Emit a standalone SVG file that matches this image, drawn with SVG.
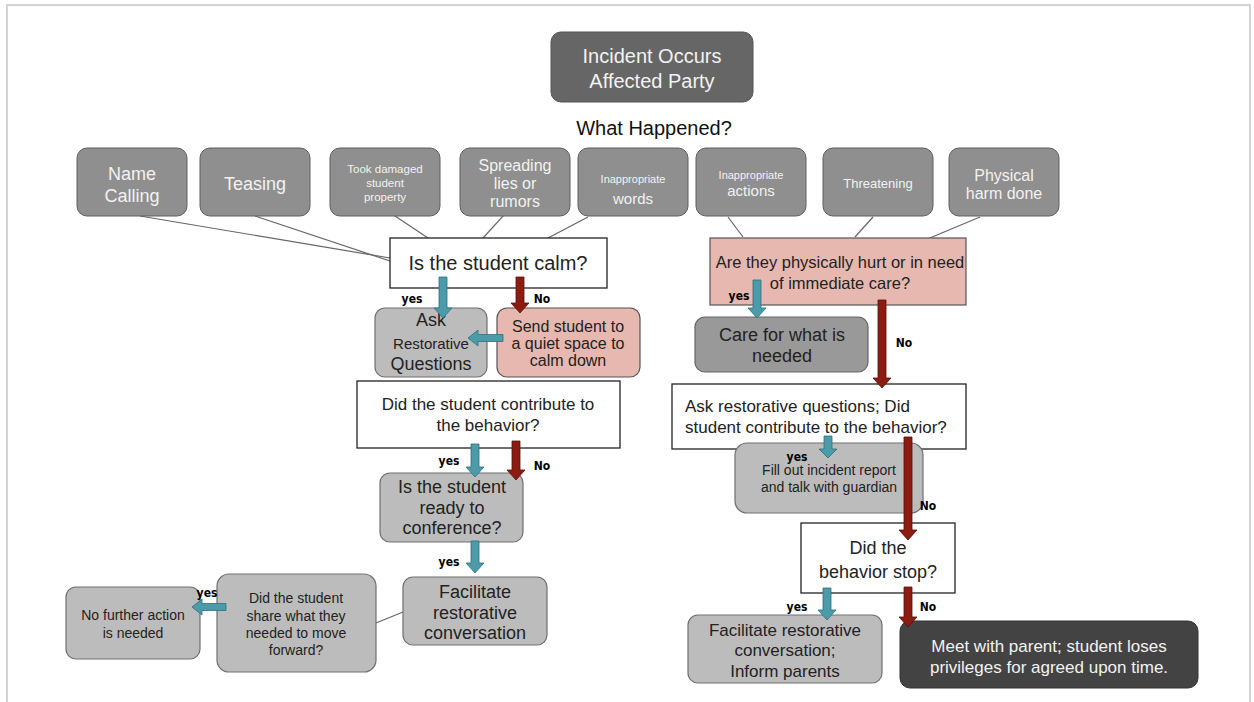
<svg xmlns="http://www.w3.org/2000/svg" width="1254" height="702" viewBox="0 0 1254 702">
<style>
text{font-family:"Liberation Sans",Arial,sans-serif;text-anchor:middle}
.cat rect{fill:#8f8f8f;stroke:#5e5e5e;stroke-width:1}
.cat text{fill:#f2f2f2}
.q rect{fill:#fff;stroke:#222;stroke-width:1.3}
.q text{fill:#222}
.lg rect{fill:#bcbcbc;stroke:#707070;stroke-width:1.2}
.lg text{fill:#222}
.pk rect{fill:#e6b8af;stroke:#555;stroke-width:1.2}
.pk text{fill:#222}
.lbl{font-family:"DejaVu Sans Condensed","DejaVu Sans",sans-serif;font-weight:bold;font-size:12px;fill:#000;font-stretch:condensed}
.link{stroke:#666;stroke-width:1.2;fill:none}
.ty{fill:#4b9bab;stroke:#2e6f7c;stroke-width:0.8}
.rn{fill:#8c1b12;stroke:#5a0f0a;stroke-width:0.8}
</style>
<rect width="1254" height="702" fill="#fff"/>
<path d="M7,702 V5 H1250 V702" fill="none" stroke="#d3d3d3" stroke-width="2"/>

<g id="connectors">
<line class="link" x1="140" y1="216" x2="390" y2="258"/>
<line class="link" x1="255" y1="216" x2="390" y2="261"/>
<line class="link" x1="377" y1="204" x2="428" y2="238"/>
<line class="link" x1="513" y1="205" x2="483" y2="238"/>
<line class="link" x1="588" y1="217" x2="548" y2="238"/>
<line class="link" x1="728" y1="217" x2="743" y2="237"/>
<line class="link" x1="873" y1="217" x2="855" y2="237"/>
<line class="link" x1="980" y1="217" x2="925" y2="240"/>
<line class="link" x1="403" y1="612" x2="376" y2="623"/>
</g>

<g id="n-incident">
<rect x="551" y="32" width="202" height="70" rx="10" fill="#666" stroke="#555"/>
<text x="652" y="63" font-size="20" fill="#f2f2f2">Incident Occurs</text>
<text x="652" y="88" font-size="20" fill="#f2f2f2">Affected Party</text>
</g>
<g id="n-what"><text x="654" y="135" font-size="20" fill="#111">What Happened?</text></g>

<g id="n-name" class="cat"><rect x="77" y="148" width="110" height="68" rx="10"/>
<text x="132" y="180" font-size="18">Name</text><text x="132" y="202" font-size="18">Calling</text></g>
<g id="n-teasing" class="cat"><rect x="200" y="148" width="110" height="68" rx="10"/>
<text x="255" y="190" font-size="18">Teasing</text></g>
<g id="n-took" class="cat"><rect x="330" y="148" width="110" height="68" rx="10"/>
<text x="385" y="173" font-size="11.5">Took damaged</text><text x="385" y="187" font-size="11.5">student</text><text x="385" y="201" font-size="11.5">property</text></g>
<g id="n-spread" class="cat"><rect x="460" y="148" width="110" height="68" rx="10"/>
<text x="515" y="171" font-size="16">Spreading</text><text x="515" y="189" font-size="16">lies or</text><text x="515" y="207" font-size="16">rumors</text></g>
<g id="n-words" class="cat"><rect x="578" y="148" width="110" height="68" rx="10"/>
<text x="633" y="183" font-size="11">Inappropriate</text><text x="633" y="204" font-size="15">words</text></g>
<g id="n-actions" class="cat"><rect x="696" y="148" width="110" height="68" rx="10"/>
<text x="751" y="179" font-size="11">Inappropriate</text><text x="751" y="196" font-size="15">actions</text></g>
<g id="n-threat" class="cat"><rect x="823" y="148" width="110" height="68" rx="10"/>
<text x="878" y="188" font-size="13">Threatening</text></g>
<g id="n-physical" class="cat"><rect x="949" y="148" width="110" height="68" rx="10"/>
<text x="1004" y="181" font-size="16">Physical</text><text x="1004" y="199" font-size="16">harm done</text></g>

<g id="n-calm" class="q"><rect x="390" y="238" width="217" height="50"/>
<text x="498" y="270" font-size="20">Is the student calm?</text></g>

<g id="n-ask" class="lg"><rect x="375" y="308" width="112" height="69" rx="10"/>
<text x="431" y="326" font-size="18">Ask</text><text x="431" y="349" font-size="15">Restorative</text><text x="431" y="370" font-size="18">Questions</text></g>
<g id="n-send" class="pk"><rect x="497" y="308" width="143" height="69" rx="10"/>
<text x="568" y="332" font-size="16">Send student to</text><text x="568" y="349" font-size="16">a quiet space to</text><text x="568" y="366" font-size="16">calm down</text></g>

<g id="n-hurt" class="pk"><rect x="710" y="238" width="256" height="67"/>
<text x="840" y="268" font-size="16.5">Are they physically hurt or in need</text><text x="840" y="289" font-size="16.5">of immediate care?</text></g>
<g id="n-care"><rect x="695" y="317" width="173" height="55" rx="10" fill="#999" stroke="#666" stroke-width="1.2"/>
<text x="782" y="341" font-size="18" fill="#222">Care for what is</text><text x="782" y="362" font-size="18" fill="#222">needed</text></g>

<g id="n-contrib-l" class="q"><rect x="357" y="381" width="263" height="67"/>
<text x="488" y="410" font-size="17">Did the student contribute to</text><text x="488" y="431" font-size="17">the behavior?</text></g>
<g id="n-ready" class="lg"><rect x="380" y="473" width="143" height="69" rx="10"/>
<text x="452" y="493" font-size="18">Is the student</text><text x="452" y="514" font-size="18">ready to</text><text x="452" y="534" font-size="18">conference?</text></g>
<g id="n-facil-l" class="lg"><rect x="403" y="577" width="144" height="68" rx="10"/>
<text x="475" y="598" font-size="18">Facilitate</text><text x="475" y="619" font-size="18">restorative</text><text x="475" y="639" font-size="18">conversation</text></g>
<g id="n-share" class="lg"><rect x="217" y="574" width="159" height="98" rx="12"/>
<text x="296" y="603" font-size="14">Did the student</text><text x="296" y="621" font-size="14">share what they</text><text x="296" y="638" font-size="14">needed to move</text><text x="296" y="655" font-size="14">forward?</text></g>
<g id="n-nofurther" class="lg"><rect x="66" y="587" width="134" height="72" rx="10"/>
<text x="133" y="620" font-size="14">No further action</text><text x="133" y="638" font-size="14">is needed</text></g>

<g id="n-contrib-r" class="q"><rect x="672" y="384" width="294" height="65"/>
<text x="685" y="412" font-size="17" style="text-anchor:start">Ask restorative questions; Did</text>
<text x="685" y="433" font-size="17" style="text-anchor:start">student contribute to the behavior?</text></g>
<g id="n-report" class="lg"><rect x="735" y="443" width="188" height="70" rx="12"/>
<text x="829" y="475" font-size="14">Fill out incident report</text><text x="829" y="492" font-size="14">and talk with guardian</text></g>
<g id="n-stop" class="q"><rect x="801" y="523" width="154" height="70"/>
<text x="878" y="554" font-size="18">Did the</text><text x="878" y="578" font-size="18">behavior stop?</text></g>
<g id="n-facil-r" class="lg"><rect x="688" y="615" width="194" height="68" rx="10"/>
<text x="785" y="636" font-size="17">Facilitate restorative</text><text x="785" y="656" font-size="17">conversation;</text><text x="785" y="677" font-size="17">Inform parents</text></g>
<g id="n-meet"><rect x="900" y="621" width="298" height="67" rx="10" fill="#434343" stroke="#333"/>
<text x="1049" y="652" font-size="17" fill="#f2f2f2">Meet with parent; student loses</text><text x="1049" y="673" font-size="17" fill="#f2f2f2">privileges for agreed upon time.</text></g>

<g id="arrows">
<polygon class="ty" points="439,277 447,277 447,308 452,308 443,318 434,308 439,308"/>
<polygon class="rn" points="516,277 524,277 524,303 529,303 520,313 511,303 516,303"/>
<polygon class="ty" points="503,334.5 478,334.5 478,330 468,338 478,346 478,341.5 503,341.5"/>
<polygon class="ty" points="753,280 761,280 761,308 766,308 757,318 748,308 753,308"/>
<polygon class="rn" points="878,300 886,300 886,378 891,378 882,388 873,378 878,378"/>
<polygon class="ty" points="824,436 832,436 832,449 837,449 828,458 819,449 824,449"/>
<polygon class="rn" points="904,437 912,437 912,530 917,530 908,540 899,530 904,530"/>
<polygon class="ty" points="823,588 831,588 831,610 836,610 827,620 818,610 823,610"/>
<polygon class="rn" points="904,587 912,587 912,617 917,617 908,627 899,617 904,617"/>
<polygon class="ty" points="471,444 479,444 479,467 484,467 475,477 466,467 471,467"/>
<polygon class="rn" points="512,441 520,441 520,470 525,470 516,480 507,470 512,470"/>
<polygon class="ty" points="471,541 479,541 479,563 484,563 475,573 466,563 471,563"/>
<polygon class="ty" points="226,603.5 202,603.5 202,599 192,607 202,615 202,610.5 226,610.5"/>
</g>

<g id="labels">
<text class="lbl" x="412" y="303">yes</text>
<text class="lbl" x="542" y="303">No</text>
<text class="lbl" x="739" y="300">yes</text>
<text class="lbl" x="904" y="347">No</text>
<text class="lbl" x="449" y="465">yes</text>
<text class="lbl" x="542" y="470">No</text>
<text class="lbl" x="449" y="566">yes</text>
<text class="lbl" x="207" y="597">yes</text>
<text class="lbl" x="797" y="461">yes</text>
<text class="lbl" x="928" y="510">No</text>
<text class="lbl" x="797" y="611">yes</text>
<text class="lbl" x="928" y="611">No</text>
</g>
</svg>
